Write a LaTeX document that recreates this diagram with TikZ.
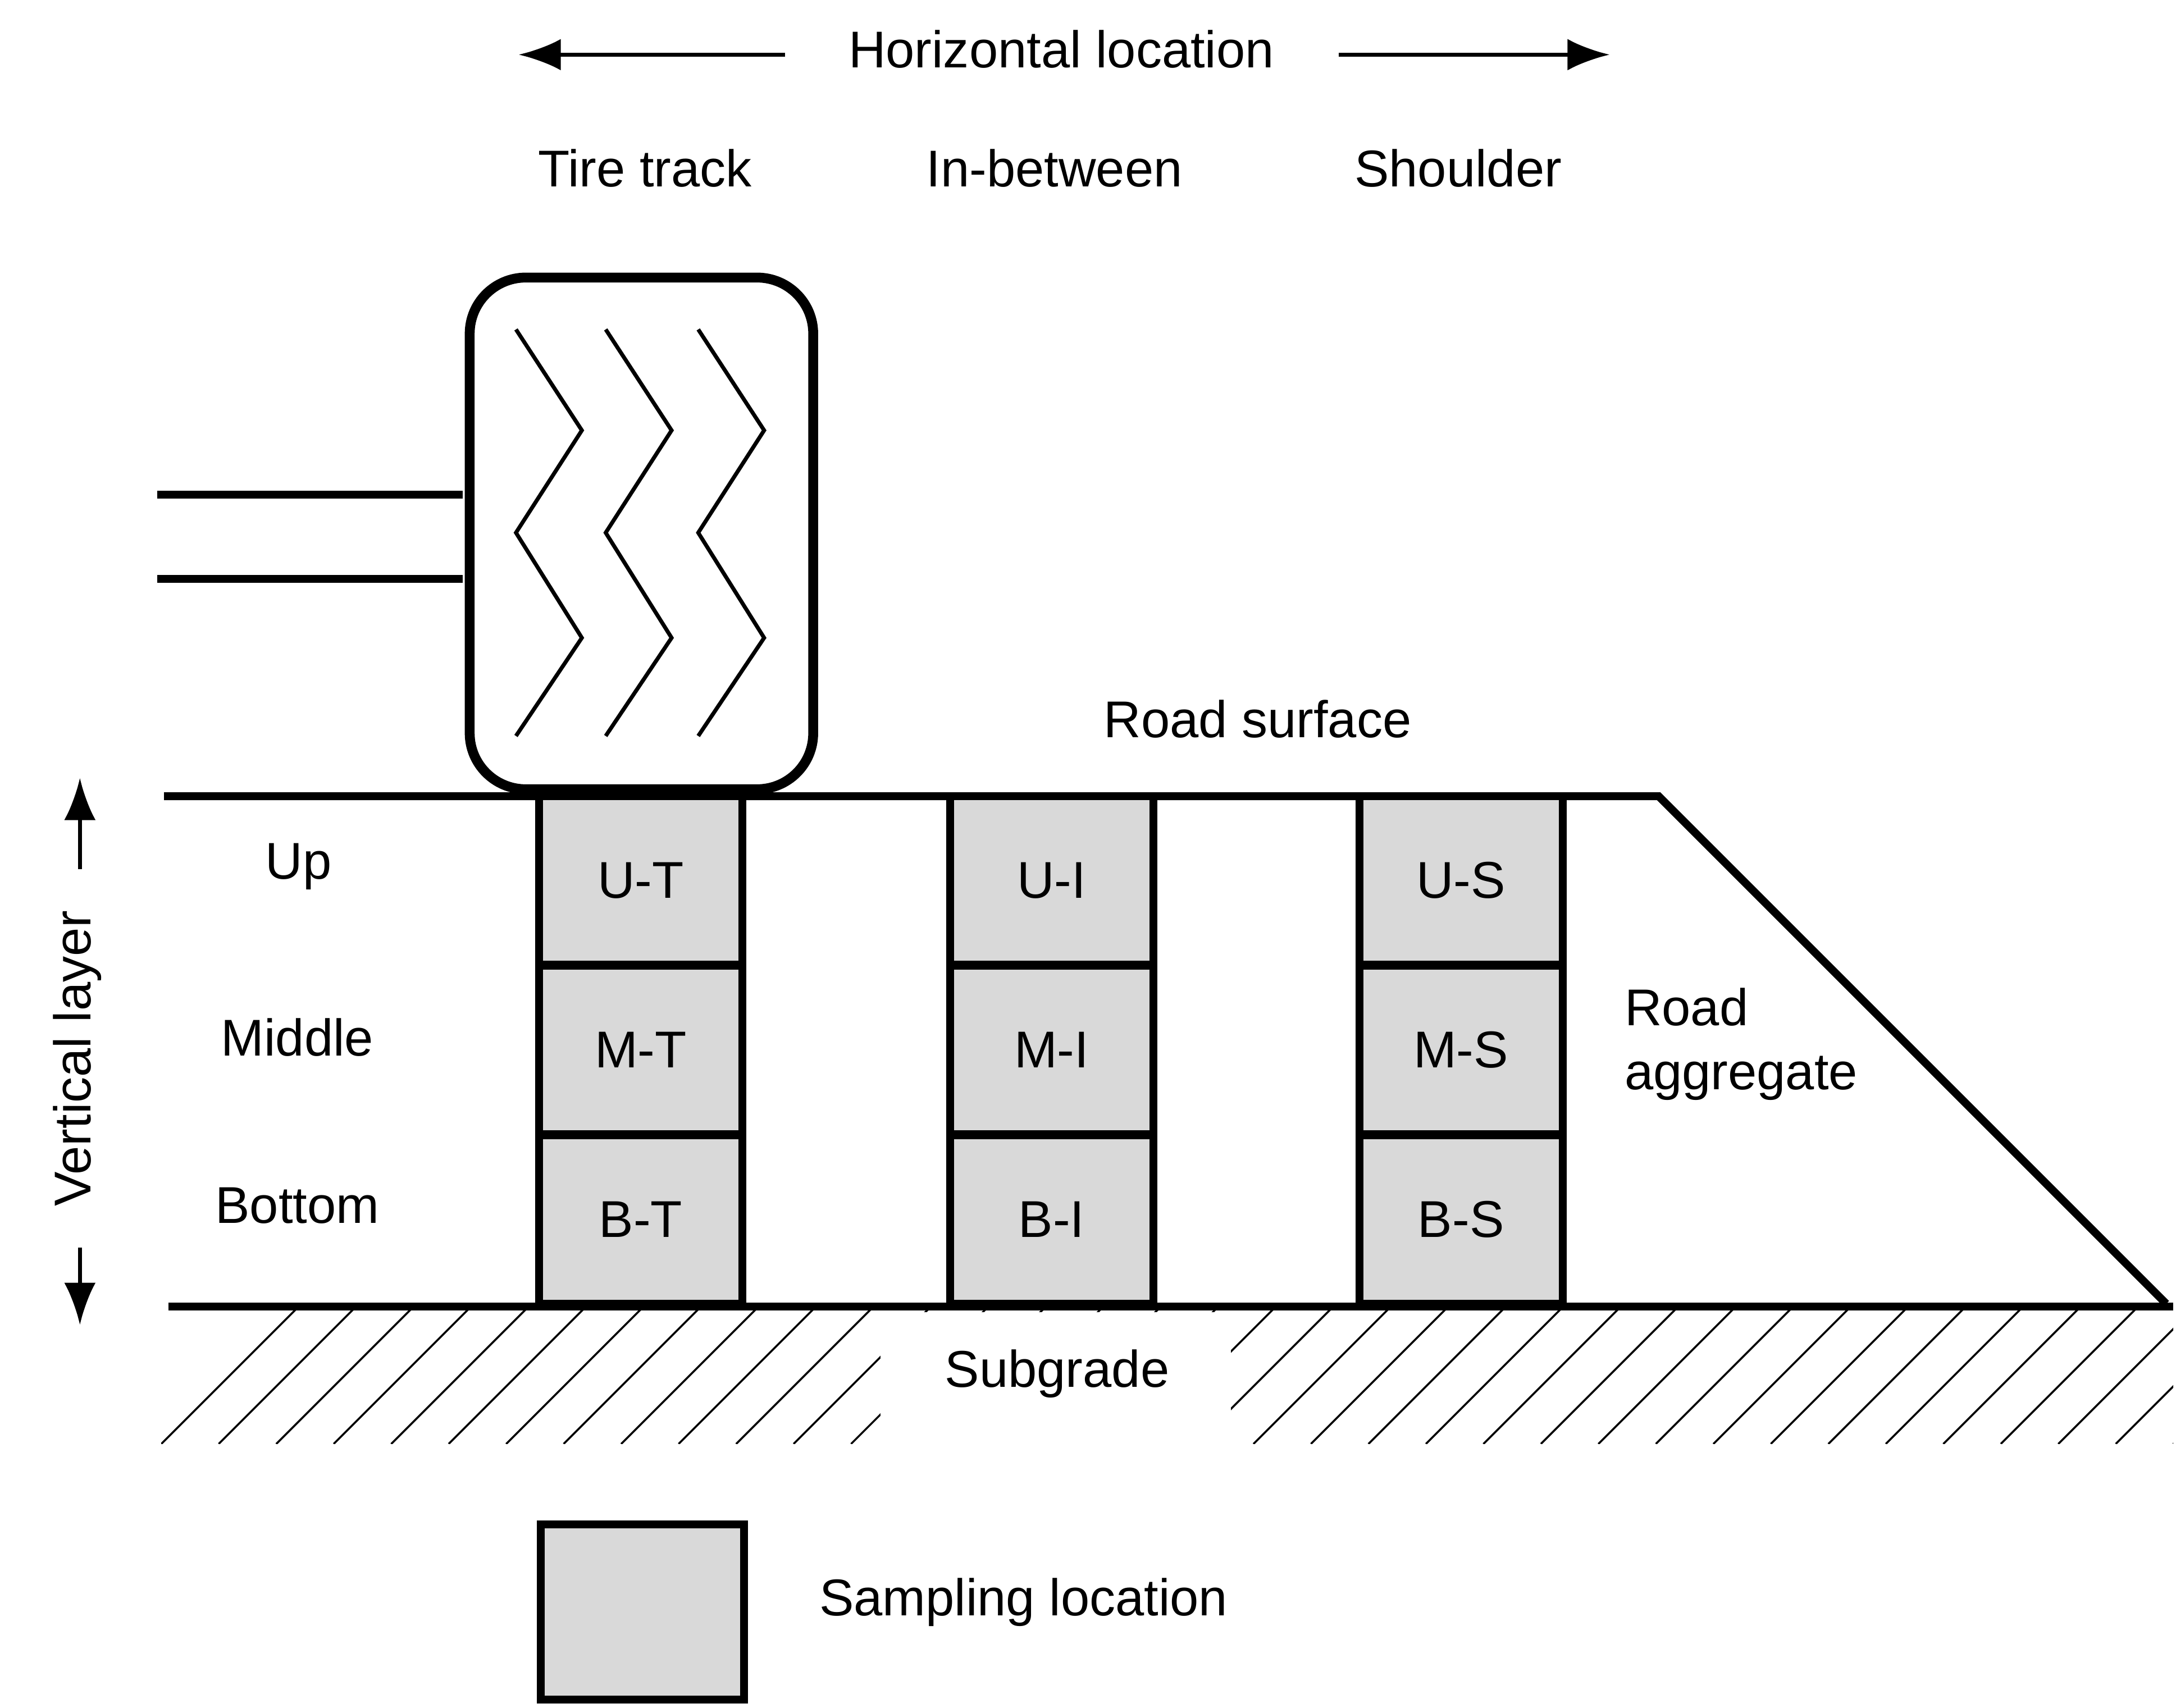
\documentclass[tikz,border=0pt]{standalone}
\usepackage{fontspec}
\setmainfont{Liberation Sans}
\usetikzlibrary{arrows.meta}
\usetikzlibrary{positioning}
\definecolor{samplegray}{rgb}{0.85,0.85,0.85}
\tikzset{
  sample/.style={draw, line width=1.6pt, fill=samplegray, minimum width=14.5mm, minimum height=12mm, inner sep=0pt, font=\fontsize{10.5}{12.5}\selectfont},
  thickline/.style={line width=1.6pt},
  lbl/.style={font=\fontsize{10.5}{13}\selectfont, inner sep=0pt}
}
\begin{document}
\begin{tikzpicture}[x=0.1mm,y=-0.1mm]
\useasboundingbox (0,0) rectangle (1552,1218);
% headings
\node[lbl] (horiz) at (757,35) {Horizontal location};
\coordinate (hl1) at (560,39); \coordinate (hl2) at (370,39);
\coordinate (hr1) at (955,39); \coordinate (hr2) at (1148,39);
\draw[-{Latex[length=3mm]}, thick] (hl1) -- (hl2);
\draw[-{Latex[length=3mm]}, thick] (hr1) -- (hr2);
\node[lbl] (tire) at (460,120) {Tire track};
\node[lbl] (inbetween) at (752,120) {In-between};
\node[lbl] (shoulder) at (1040,120) {Shoulder};
% tire
\draw[line width=2pt, rounded corners=4mm] (335,198) rectangle (580,563);
\draw[thickline] (112,353) -- (330,353);
\draw[thickline] (112,413) -- (330,413);
\foreach \dx in {0,64,130}{
  \draw[thick] (368+\dx,235) -- (415+\dx,307) -- (368+\dx,380) -- (415+\dx,455) -- (368+\dx,525);
}
% road
\node[lbl] (surface) at (897,513) {Road surface};
\coordinate (s0) at (117,568); \coordinate (s1) at (1183,568); \coordinate (s2) at (1545,930);
\draw[thickline] (s0) -- (s1) -- (s2);
\coordinate (b0) at (120,932); \coordinate (b1) at (1550,932);
\begin{scope}
\clip (115,934) rectangle (1550,1030);
\foreach \x in {0,41,...,1480}{
  \draw (115+\x,1030) -- (215+\x,930);
}
\end{scope}
\fill[white] (628,936) rectangle (878,1030);
\draw[thickline] (b0) -- (b1);
\node[lbl] (subgrade) at (754,980) {Subgrade};
% sampling boxes
\foreach \cx/\c in {457/T,750/I,1042/S}{
  \node[sample] (U\c) at (\cx,628) {U-\c};
  \node[sample] (M\c) at (\cx,749) {M-\c};
  \node[sample] (B\c) at (\cx,870) {B-\c};
}
% vertical layer
\node[lbl] (up) at (213,618) {Up};
\node[lbl] (middle) at (212,740) {Middle};
\node[lbl] (bottom) at (212,860) {Bottom};
\node[lbl, rotate=90] (vert) at (55,755) {Vertical layer};
\coordinate (vu0) at (57,620); \coordinate (vu) at (57,555);
\coordinate (vd0) at (57,890); \coordinate (vd) at (57,945);
\draw[-{Latex[length=3mm]}, thick] (vu0) -- (vu);
\draw[-{Latex[length=3mm]}, thick] (vd0) -- (vd);
\node[lbl, align=left, anchor=west] (aggr) at (1158,745) {Road\\aggregate};
% legend
\node[sample, minimum height=12.5mm] (legend) at (458,1150) {};
\node[lbl] (legtext) at (730,1143) {Sampling location};
\end{tikzpicture}
\end{document}
